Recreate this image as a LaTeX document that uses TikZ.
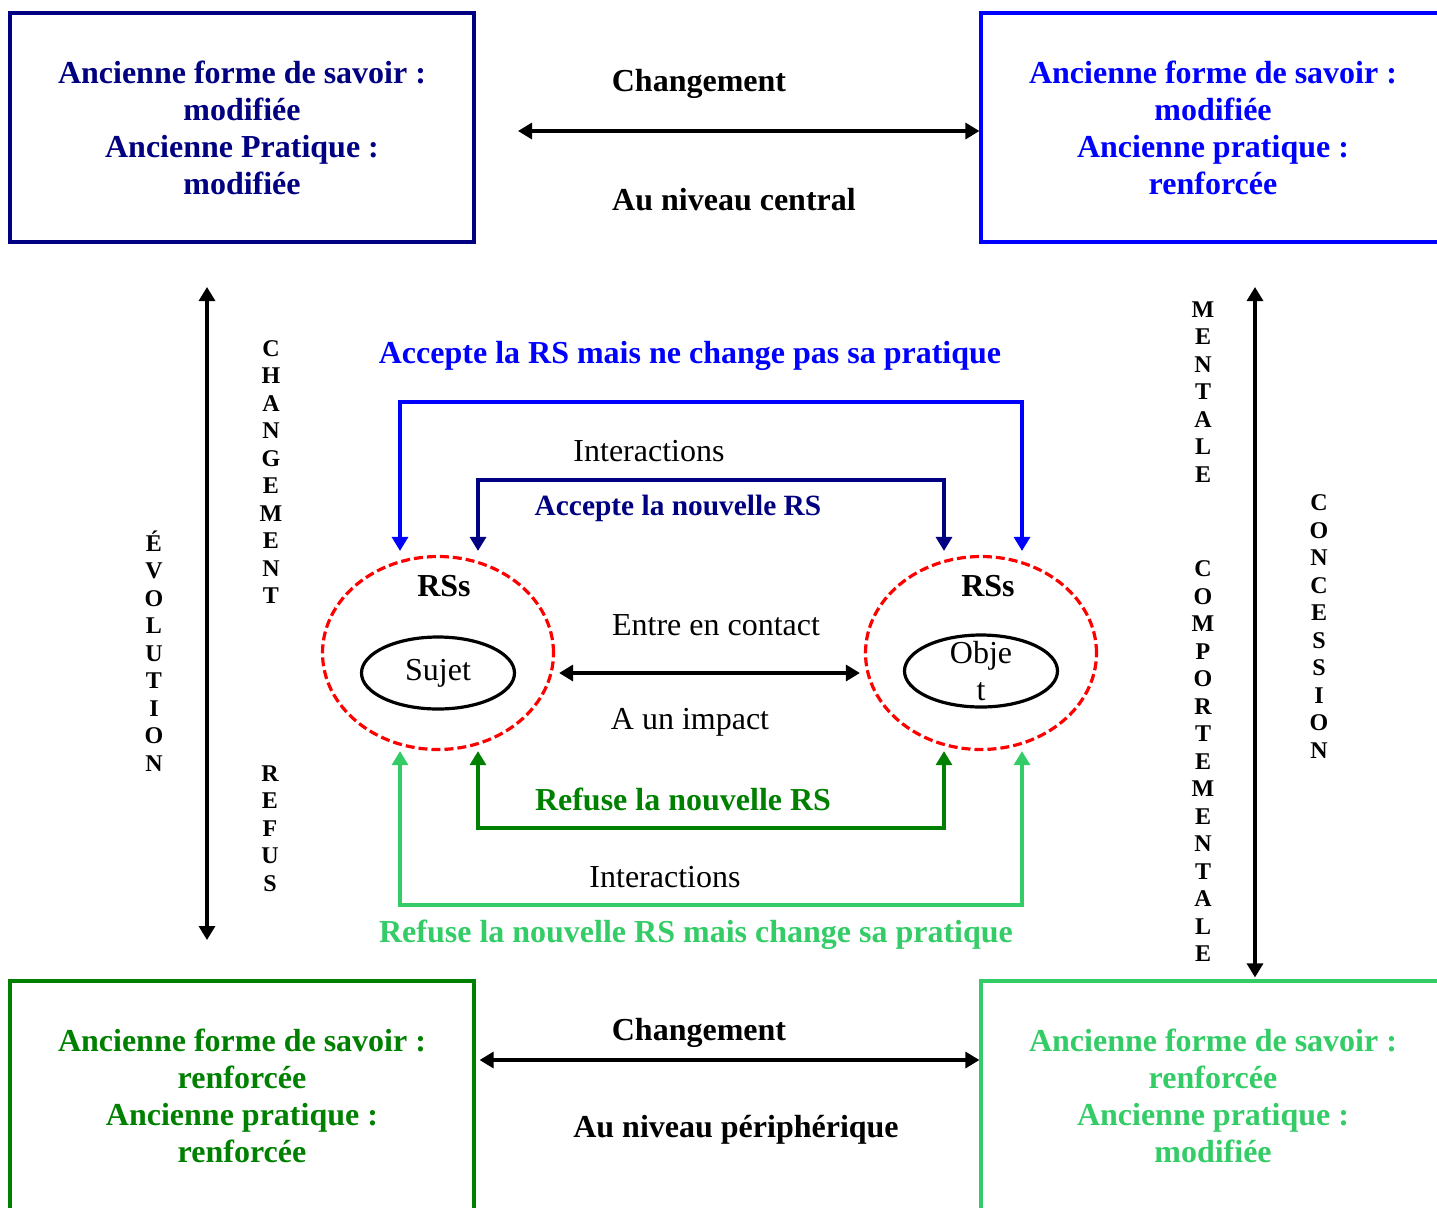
\documentclass[tikz,border=0pt]{standalone}
\usepackage{fontspec}
\setmainfont{Liberation Serif}
\usetikzlibrary{shapes.geometric,arrows.meta}
\definecolor{bleunuit}{RGB}{0,0,128}
\definecolor{bleu}{RGB}{0,0,255}
\definecolor{vertf}{RGB}{0,128,0}
\definecolor{vertc}{RGB}{51,204,102}

\begin{document}
\begin{tikzpicture}[x=0.5pt,y=-0.5pt,
   font=\fontsize{16}{18.5}\selectfont,
   >={Triangle[length=7pt,width=8pt]},
   boite/.style={draw,line width=1.6pt,minimum width=232pt,minimum height=114.5pt,align=center,font=\fontsize{16}{18.5}\selectfont\bfseries},
   rs/.style={ellipse,draw=red,dash pattern=on 4.5pt off 2pt,line width=1.6pt,minimum width=115.5pt,minimum height=96.5pt},
   pole/.style={ellipse,draw,line width=1.6pt,minimum width=76.5pt,minimum height=36pt,inner sep=0pt},
   vert/.style={align=center,font=\fontsize{12}{13.75}\selectfont\bfseries},
   titre/.style={font=\fontsize{16}{18.5}\selectfont\bfseries},
   lien/.style={line width=1.6pt}]
\useasboundingbox (0,0) rectangle (1437,1207);
% les quatre cadres
\node[boite,draw=bleunuit,text=bleunuit] (hg) at (242,127.5) {Ancienne forme de savoir :\\modifiée\\Ancienne Pratique :\\modifiée};
\node[boite,draw=bleu,text=bleu] (hd) at (1213,127.5) {Ancienne forme de savoir :\\modifiée\\Ancienne pratique :\\renforcée};
\node[boite,draw=vertf,text=vertf] (bg) at (242,1095.5) {Ancienne forme de savoir :\\renforcée\\Ancienne pratique :\\renforcée};
\node[boite,draw=vertc,text=vertc] (bd) at (1213,1095.5) {Ancienne forme de savoir :\\renforcée\\Ancienne pratique :\\modifiée};
% RS du sujet et de l'objet
\node[rs] (rsg) at (438,653) {};
\node[rs] (rsd) at (981,653) {};
\node[titre] (lrsg) at (444,586) {RSs};
\node[titre] (lrsd) at (988,586) {RSs};
\node[pole] (sujet) at (438,673) {Sujet};
\node[pole,label={[align=center]center:Obje\\t}] (objet) at (981,671) {};
% textes
\node[titre] (ch1) at (699,84) {Changement};
\node[titre] (niv1) at (734,200) {Au niveau central};
\node[titre] (ch2) at (699,1033) {Changement};
\node[titre] (niv2) at (736,1130) {Au niveau périphérique};
\node[titre,text=bleu] (acc1) at (690,356) {Accepte la RS mais ne change pas sa pratique};
\node (int1) at (649,451) {Interactions};
\node[titre,text=bleunuit,font=\fontsize{14.7}{17}\selectfont\bfseries] (acc2) at (678,508) {Accepte la nouvelle RS};
\node (cont) at (716,625) {Entre en contact};
\node (imp) at (690,722) {A un impact};
\node[titre,text=vertf] (ref1) at (683,799) {Refuse la nouvelle RS};
\node (int2) at (665,877) {Interactions};
\node[titre,text=vertc] (ref2) at (696,935) {Refuse la nouvelle RS mais change sa pratique};
% lettres verticales
\node[vert] (evo) at (154,651) {É\\V\\O\\L\\U\\T\\I\\O\\N};
\node[vert] (chg) at (271,472) {C\\H\\A\\N\\G\\E\\M\\E\\N\\T};
\node[vert] (refus) at (270,828.5) {R\\E\\F\\U\\S};
\node[vert] (ment) at (1203,392) {M\\E\\N\\T\\A\\L\\E};
\node[vert] (comp) at (1203,761.5) {C\\O\\M\\P\\O\\R\\T\\E\\M\\E\\N\\T\\A\\L\\E};
\node[vert] (conc) at (1319,626.5) {C\\O\\N\\C\\E\\S\\S\\I\\O\\N};
% coins des liens
\coordinate (a1) at (400,402);
\coordinate (a2) at (1022,402);
\coordinate (b1) at (478,480);
\coordinate (b2) at (944,480);
\coordinate (c1) at (478,828);
\coordinate (c2) at (944,828);
\coordinate (d1) at (400,905);
\coordinate (d2) at (1022,905);
\coordinate (h1) at (518,131);
\coordinate (h2) at (700,1060);
\coordinate (v1) at (207,287);
\coordinate (v2) at (207,940);
\coordinate (v3) at (1255,287);
% liens
\draw[lien,bleu,<->,shorten <=2pt,shorten >=2pt] (rsg.north -| a1) -- (a1) -- (a2) -- (rsd.north -| a2);
\draw[lien,bleunuit,<->,shorten <=2pt,shorten >=2pt] (rsg.north -| b1) -- (b1) -- (b2) -- (rsd.north -| b2);
\draw[lien,vertf,<->] (rsg.south -| c1) -- (c1) -- (c2) -- (rsd.south -| c2);
\draw[lien,vertc,<->] (rsg.south -| d1) -- (d1) -- (d2) -- (rsd.south -| d2);
\draw[lien,<->,shorten <=2pt,shorten >=2pt] (rsg.east |- sujet) -- (rsd.west |- sujet);
\draw[lien,<->] (h1) -- (hd.west |- h1);
\draw[lien,<->,shorten <=2pt] (bg.east |- h2) -- (bd.west |- h2);
\draw[lien,<->] (v1) -- (v2);
\draw[lien,<->,shorten >=1pt] (v3) -- (bd.north -| v3);
\end{tikzpicture}
\end{document}
